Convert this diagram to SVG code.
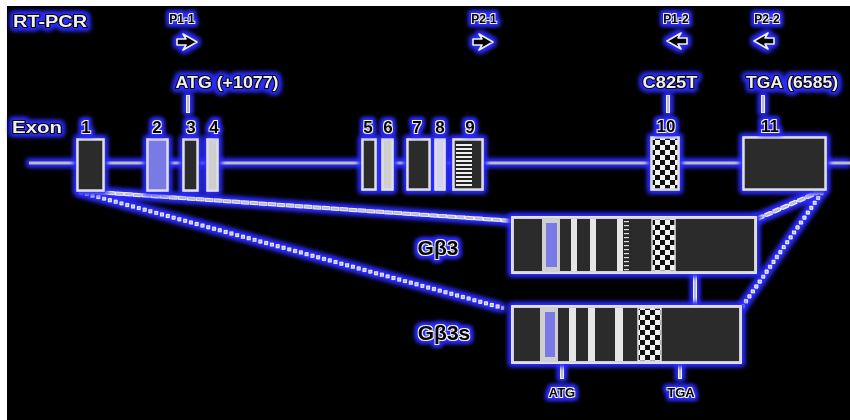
<svg xmlns="http://www.w3.org/2000/svg" width="850" height="420" viewBox="0 0 850 420">
<defs>
<filter id="gw" filterUnits="userSpaceOnUse" x="0" y="0" width="850" height="420" color-interpolation-filters="sRGB">
<feMorphology in="SourceAlpha" operator="dilate" radius="2.5" result="d"/>
<feGaussianBlur in="d" stdDeviation="2.5" result="b"/>
<feFlood flood-color="#2b2bff" result="f"/>
<feComposite in="f" in2="b" operator="in" result="blue"/>
<feMorphology in="SourceAlpha" operator="dilate" radius="1.2" result="w0"/>
<feFlood flood-color="#ececff" result="wf"/>
<feComposite in="wf" in2="w0" operator="in" result="white"/>
<feMerge><feMergeNode in="blue"/><feMergeNode in="blue"/><feMergeNode in="white"/><feMergeNode in="SourceGraphic"/></feMerge>
</filter>
<filter id="gd" filterUnits="userSpaceOnUse" x="0" y="0" width="850" height="420" color-interpolation-filters="sRGB">
<feMorphology in="SourceAlpha" operator="dilate" radius="2.6" result="d"/>
<feGaussianBlur in="d" stdDeviation="2.3" result="b"/>
<feFlood flood-color="#2b2bff" result="f"/>
<feComposite in="f" in2="b" operator="in" result="blue"/>
<feMorphology in="SourceAlpha" operator="dilate" radius="1.1" result="w0"/>
<feFlood flood-color="#f2f2f2" result="wf"/>
<feComposite in="wf" in2="w0" operator="in" result="white"/>
<feMorphology in="SourceAlpha" operator="dilate" radius="0.4" result="k0"/>
<feFlood flood-color="#000" result="kf"/>
<feComposite in="kf" in2="k0" operator="in" result="black"/>
<feMerge><feMergeNode in="blue"/><feMergeNode in="blue"/><feMergeNode in="white"/><feMergeNode in="black"/></feMerge>
</filter>
<filter id="gb" filterUnits="userSpaceOnUse" x="0" y="0" width="850" height="420" color-interpolation-filters="sRGB">
<feMorphology in="SourceAlpha" operator="dilate" radius="2.2" result="d"/>
<feGaussianBlur in="d" stdDeviation="2.4" result="b"/>
<feFlood flood-color="#2b2bff" result="f"/>
<feComposite in="f" in2="b" operator="in" result="blue"/>
<feMerge><feMergeNode in="blue"/><feMergeNode in="blue"/><feMergeNode in="SourceGraphic"/></feMerge>
</filter>
<pattern id="chk" width="10" height="10" patternUnits="userSpaceOnUse">
<rect width="10" height="10" fill="#f2f2f2"/><rect width="5" height="5" fill="#111"/><rect x="5" y="5" width="5" height="5" fill="#111"/>
</pattern>
<pattern id="str" width="4" height="4" patternUnits="userSpaceOnUse">
<rect width="4" height="4" fill="#222"/><rect width="4" height="2" fill="#eee"/>
</pattern>
<pattern id="dsh" width="7" height="4" patternUnits="userSpaceOnUse">
<rect width="7" height="4" fill="#2a2a2a"/><rect x="1" y="1" width="5" height="1.2" fill="#ddd"/>
</pattern>
<path id="arr" d="M-10,-3 L-1,-3 L-4,-8 L10,0 L-4,8 L-1,3 L-10,3 Z"/>
</defs>
<style>
.t{font-family:"Liberation Sans",Arial,sans-serif;font-weight:bold;text-anchor:middle;stroke-linejoin:round}
.wt{fill:#efefef;stroke:#000;stroke-width:2;paint-order:stroke}
.dk{fill:#000}
.ex{stroke:#dcdcdc;stroke-width:1.5}
.dark{fill:#2b2b2b}
.lite{fill:#cfcfcf}
.lav{fill:#7a7ae6}
.ln{stroke:#bdbdbd;stroke-width:2;fill:none}
.ar{fill:#000;stroke:#f0f0f0;stroke-width:1.6;stroke-linejoin:round}
</style>
<rect x="0" y="0" width="850" height="420" fill="#ffffff"/>
<rect x="7" y="6" width="843" height="414" fill="#000"/>

<g id="connectors" filter="url(#gw)">
<line class="ln" x1="80" y1="191" x2="513" y2="221" stroke-dasharray="7 2"/>
<line class="ln" x1="80" y1="192" x2="503" y2="308" stroke-dasharray="2 4"/>
<line class="ln" x1="757" y1="219" x2="823" y2="190" stroke-dasharray="7 2"/>
<line class="ln" x1="742" y1="307" x2="823" y2="191" stroke-dasharray="2 4"/>
<line class="ln" x1="695" y1="273" x2="695" y2="306"/>
<line class="ln" x1="188" y1="96" x2="188" y2="112"/>
<line class="ln" x1="668" y1="96" x2="668" y2="112"/>
<line class="ln" x1="763" y1="96" x2="763" y2="112"/>
<line class="ln" x1="562" y1="363" x2="562" y2="378"/>
<line class="ln" x1="680" y1="363" x2="680" y2="378"/>
</g>

<g id="gene-line" filter="url(#gb)">
<line x1="29" y1="163" x2="850" y2="163" stroke="#bdbdbd" stroke-width="3"/>
</g>

<g id="labels-top" filter="url(#gb)">
<text id="rtpcr" class="t wt" x="50" y="27" font-size="16" textLength="74" lengthAdjust="spacingAndGlyphs">RT-PCR</text>
<text id="exon-label" class="t wt" x="37" y="133" font-size="17" textLength="50" lengthAdjust="spacingAndGlyphs">Exon</text>
<text id="atg-label" class="t wt" x="227" y="88" font-size="16" textLength="103" lengthAdjust="spacingAndGlyphs">ATG (+1077)</text>
<text id="c825t-label" class="t wt" x="670" y="88" font-size="16" textLength="55" lengthAdjust="spacingAndGlyphs">C825T</text>
<text id="tga-label" class="t wt" x="792" y="88" font-size="16" textLength="92" lengthAdjust="spacingAndGlyphs">TGA (6585)</text>
</g>

<g id="primers">
<g id="p1-1"><text class="t dk" x="182" y="23" font-size="12" filter="url(#gd)">P1-1</text><g filter="url(#gb)"><use href="#arr" class="ar" transform="translate(187,42)"/></g></g>
<g id="p2-1"><text class="t dk" x="484" y="23" font-size="12" filter="url(#gd)">P2-1</text><g filter="url(#gb)"><use href="#arr" class="ar" transform="translate(483,42)"/></g></g>
<g id="p1-2"><text class="t dk" x="676" y="23" font-size="12" filter="url(#gd)">P1-2</text><g filter="url(#gb)"><use href="#arr" class="ar" transform="translate(677,41) scale(-1,1)"/></g></g>
<g id="p2-2"><text class="t dk" x="767" y="23" font-size="12" filter="url(#gd)">P2-2</text><g filter="url(#gb)"><use href="#arr" class="ar" transform="translate(764,41) scale(-1,1)"/></g></g>
</g>

<g id="exons" filter="url(#gw)">
<rect id="exon1" class="ex dark" x="78" y="140" width="25" height="50"/>
<rect id="exon2" class="ex lav" x="148" y="140" width="19" height="50"/>
<rect id="exon3" class="ex dark" x="184" y="140" width="13" height="50"/>
<rect id="exon4" class="ex lite" x="208" y="140" width="9" height="50"/>
<rect id="exon5" class="ex dark" x="363" y="140" width="12" height="49"/>
<rect id="exon6" class="ex lite" x="383" y="140" width="9" height="49"/>
<rect id="exon7" class="ex dark" x="408" y="140" width="21" height="49"/>
<rect id="exon8" class="ex" x="436" y="140" width="8" height="49" fill="#d4d4ee"/>
<g id="exon9"><rect class="ex dark" x="454" y="140" width="28" height="49"/><rect x="456" y="142" width="16" height="45" fill="url(#str)"/></g>
<rect id="exon10" class="ex" x="652" y="138" width="26" height="51" fill="url(#chk)"/>
<rect id="exon11" class="ex dark" x="744" y="138" width="81" height="51"/>
</g>
<g id="exon-numbers" filter="url(#gd)">
<text class="t dk" x="86" y="133" font-size="17">1</text>
<text class="t dk" x="157" y="133" font-size="17">2</text>
<text class="t dk" x="191" y="133" font-size="17">3</text>
<text class="t dk" x="214" y="133" font-size="17">4</text>
<text class="t dk" x="368" y="133" font-size="17">5</text>
<text class="t dk" x="388" y="133" font-size="17">6</text>
<text class="t dk" x="417" y="133" font-size="17">7</text>
<text class="t dk" x="440" y="133" font-size="17">8</text>
<text class="t dk" x="470" y="133" font-size="17">9</text>
<text class="t dk" x="666" y="132" font-size="17">10</text>
<text class="t dk" x="770" y="132" font-size="17">11</text>
</g>

<g id="gb3" filter="url(#gw)">
<rect class="ex dark" x="513" y="218" width="242" height="54"/>
<rect x="542" y="219" width="18" height="52" fill="#cfcfcf"/>
<rect x="546" y="223" width="11" height="44" class="lav"/>
<rect x="571" y="219" width="6" height="52" fill="#e6e6e6"/>
<rect x="590" y="219" width="6" height="52" fill="#e6e6e6"/>
<rect x="617" y="219" width="6" height="52" fill="#e6e6e6"/>
<rect x="623" y="219" width="7" height="52" fill="url(#dsh)"/>
<rect x="652" y="219" width="23" height="52" fill="url(#chk)" stroke="#ddd" stroke-width="1.5"/>
<rect class="ex" x="513" y="218" width="242" height="54" fill="none"/>
</g>
<g id="gb3-label" filter="url(#gd)"><text class="t dk" x="438" y="255" font-size="21">Gβ3</text></g>

<g id="gb3s" filter="url(#gw)">
<rect class="ex dark" x="513" y="307" width="227" height="55"/>
<rect x="540" y="308" width="18" height="53" fill="#cfcfcf"/>
<rect x="545" y="312" width="10" height="45" class="lav"/>
<rect x="569" y="308" width="7" height="53" fill="#e6e6e6"/>
<rect x="588" y="308" width="7" height="53" fill="#e6e6e6"/>
<rect x="615" y="308" width="8" height="53" fill="#e6e6e6"/>
<rect x="638" y="308" width="23" height="53" fill="url(#chk)" stroke="#ddd" stroke-width="1.5"/>
<rect class="ex" x="513" y="307" width="227" height="55" fill="none"/>
</g>
<g id="gb3s-label" filter="url(#gd)"><text class="t dk" x="444" y="340" font-size="21">Gβ3s</text></g>

<g id="bottom-labels" filter="url(#gd)">
<text class="t dk" x="562" y="397" font-size="13">ATG</text>
<text class="t dk" x="681" y="397" font-size="13">TGA</text>
</g>
</svg>
